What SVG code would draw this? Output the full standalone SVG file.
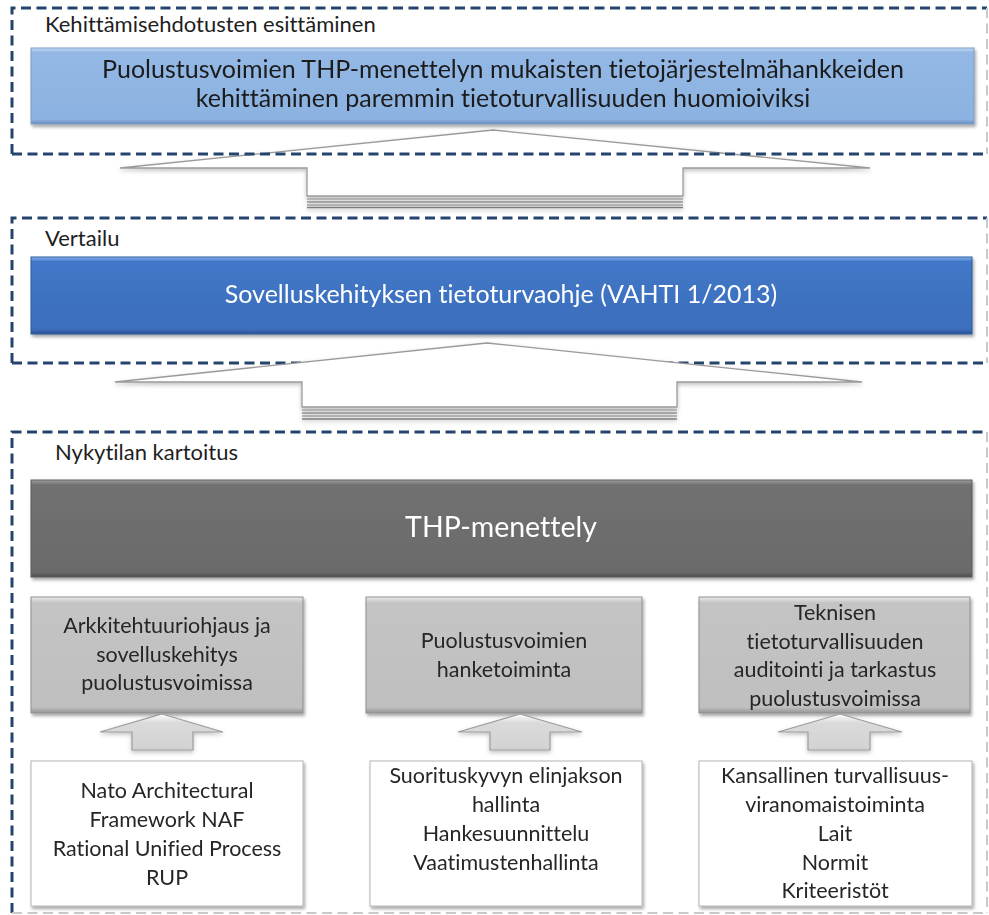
<svg xmlns="http://www.w3.org/2000/svg" width="989" height="915" viewBox="0 0 989 915">
  <style>
    text { font-variant-ligatures: none; }
    .lbl { font-family: Lato, "Liberation Sans", sans-serif; font-size: 22px; fill: #1e1e1e; }
    .big { font-family: Lato, "Liberation Sans", sans-serif; font-size: 25px; text-anchor: middle; }
    .box { font-family: Lato, "Liberation Sans", sans-serif; font-size: 21.5px; fill: #262626; text-anchor: middle; }
    .dash { fill: none; stroke: #24446e; stroke-width: 3; stroke-dasharray: 10 5.5; }
    .edge { fill: none; stroke: #c9c9c9; stroke-width: 2; stroke-dasharray: 10 5.5; }
    .bigarrow { fill: #ffffff; stroke: #9a9a9a; stroke-width: 1.3; stroke-linejoin: miter; }
    .smallarrow { fill: url(#gArrow); stroke: #9c9c9c; stroke-width: 1.2; }
    .band { stroke-width: 1.6; }
  </style>
  <defs>
    <filter id="shadow" x="-5%" y="-10%" width="112%" height="130%">
      <feDropShadow dx="1.5" dy="2.5" stdDeviation="1.8" flood-color="#000" flood-opacity="0.35"/>
    </filter>
    <filter id="softShadow" x="-5%" y="-10%" width="112%" height="130%">
      <feDropShadow dx="0" dy="2" stdDeviation="2" flood-color="#000" flood-opacity="0.25"/>
    </filter>
    <linearGradient id="gLightBlue" x1="0" y1="0" x2="0" y2="1">
      <stop offset="0" stop-color="#c3daf5"/>
      <stop offset="0.06" stop-color="#93b8e5"/>
      <stop offset="0.94" stop-color="#8cb2e1"/>
      <stop offset="1" stop-color="#6a8dba"/>
    </linearGradient>
    <linearGradient id="gBlue" x1="0" y1="0" x2="0" y2="1">
      <stop offset="0" stop-color="#8ab6f2"/>
      <stop offset="0.06" stop-color="#4177c6"/>
      <stop offset="0.94" stop-color="#3b6ebd"/>
      <stop offset="1" stop-color="#2a5290"/>
    </linearGradient>
    <linearGradient id="gDark" x1="0" y1="0" x2="0" y2="1">
      <stop offset="0" stop-color="#a0a0a0"/>
      <stop offset="0.05" stop-color="#707070"/>
      <stop offset="0.95" stop-color="#6b6b6b"/>
      <stop offset="1" stop-color="#4d4d4d"/>
    </linearGradient>
    <linearGradient id="gGrey" x1="0" y1="0" x2="0" y2="1">
      <stop offset="0" stop-color="#ebebeb"/>
      <stop offset="0.05" stop-color="#c4c4c4"/>
      <stop offset="0.95" stop-color="#bfbfbf"/>
      <stop offset="1" stop-color="#969696"/>
    </linearGradient>
    <linearGradient id="gArrow" x1="0" y1="0" x2="0" y2="1">
      <stop offset="0" stop-color="#ffffff"/>
      <stop offset="0.25" stop-color="#dadada"/>
      <stop offset="1" stop-color="#d2d2d2"/>
    </linearGradient>
  </defs>

  <rect x="0" y="0" width="989" height="915" fill="#ffffff"/>

  <g id="connectors">
    <!-- upper hollow arrow: Vertailu -> Kehittämisehdotukset -->
    <g id="arrow-up-1" filter="url(#softShadow)">
      <polygon class="bigarrow" points="493,130 870,168 683,168 683,196 307,196 307,168 120,168"/>
      <line class="band" x1="307" y1="199" x2="683" y2="199" stroke="#a5a5a5"/>
      <line class="band" x1="307" y1="202" x2="683" y2="202" stroke="#8f8f8f"/>
      <line class="band" x1="307" y1="205" x2="683" y2="205" stroke="#a0a0a0"/>
      <line class="band" x1="307" y1="207.5" x2="683" y2="207.5" stroke="#7d7d7d"/>
    </g>
  </g>

  <!-- Phase 1: proposals -->
  <g id="phase-proposals">
    <path class="dash" d="M12,154 V8 H987"/>
    <path class="dash" d="M12,154 H987"/>
    <path class="edge" d="M987,8 V154"/>
    <text class="lbl" x="45" y="32">Kehittämisehdotusten esittäminen</text>
    <g id="node-proposal" filter="url(#shadow)">
      <rect x="31" y="48" width="943" height="76" fill="url(#gLightBlue)" stroke="#7c9bc4" stroke-width="1"/>
      <text class="big" fill="#1a1a1a" x="503" y="78">Puolustusvoimien THP-menettelyn mukaisten tietojärjestelmähankkeiden</text>
      <text class="big" fill="#1a1a1a" x="503" y="107">kehittäminen paremmin tietoturvallisuuden huomioiviksi</text>
    </g>
  </g>

  <!-- Phase 2: comparison -->
  <g id="phase-comparison">
    <path class="dash" d="M12,363 V218 H987"/>
    <path class="dash" d="M12,363 H987"/>
    <path class="edge" d="M987,218 V363"/>
    <text class="lbl" x="45" y="246">Vertailu</text>
    <g id="node-vahti" filter="url(#shadow)">
      <rect x="31" y="257" width="941" height="77" fill="url(#gBlue)" stroke="#2f5a9a" stroke-width="1"/>
      <text class="big" fill="#ffffff" x="501" y="303">Sovelluskehityksen tietoturvaohje (VAHTI 1/2013)</text>
    </g>
  </g>

  <g id="connectors-2">
    <!-- lower hollow arrow: Nykytila -> Vertailu -->
    <g id="arrow-up-2" filter="url(#softShadow)">
      <polygon class="bigarrow" points="487,343 862,382 677,382 677,407 302,407 302,382 115,382"/>
      <line class="band" x1="302" y1="410" x2="677" y2="410" stroke="#a5a5a5"/>
      <line class="band" x1="302" y1="413" x2="677" y2="413" stroke="#8f8f8f"/>
      <line class="band" x1="302" y1="416" x2="677" y2="416" stroke="#a0a0a0"/>
      <line class="band" x1="302" y1="419" x2="677" y2="419" stroke="#7d7d7d"/>
    </g>
  </g>

  <!-- Phase 3: current state -->
  <g id="phase-current">
    <path class="dash" d="M12,913 V432 H987"/>
    <path class="edge" d="M12,913 H987 M987,432 V913"/>
    <text class="lbl" x="55" y="460">Nykytilan kartoitus</text>

    <g id="node-thp" filter="url(#shadow)">
      <rect x="31" y="480" width="941" height="97" fill="url(#gDark)" stroke="#5a5a5a" stroke-width="1"/>
      <text font-family="Lato, 'Liberation Sans', sans-serif" font-size="28.5" fill="#ffffff" text-anchor="middle" x="501" y="537">THP-menettely</text>
    </g>

    <g id="node-arkkitehtuuri" filter="url(#shadow)">
      <rect x="31" y="597" width="272" height="116" fill="url(#gGrey)" stroke="#8f8f8f" stroke-width="1"/>
      <text class="box" x="167" y="633">Arkkitehtuuriohjaus ja</text>
      <text class="box" x="167" y="661.5">sovelluskehitys</text>
      <text class="box" x="167" y="690">puolustusvoimissa</text>
    </g>
    <g id="node-hanketoiminta" filter="url(#shadow)">
      <rect x="366" y="597" width="276" height="116" fill="url(#gGrey)" stroke="#8f8f8f" stroke-width="1"/>
      <text class="box" x="504" y="648">Puolustusvoimien</text>
      <text class="box" x="504" y="677">hanketoiminta</text>
    </g>
    <g id="node-auditointi" filter="url(#shadow)">
      <rect x="699" y="597" width="271" height="116" fill="url(#gGrey)" stroke="#8f8f8f" stroke-width="1"/>
      <text class="box" x="835" y="620">Teknisen</text>
      <text class="box" x="835" y="648.5">tietoturvallisuuden</text>
      <text class="box" x="835" y="677">auditointi ja tarkastus</text>
      <text class="box" x="835" y="705.5">puolustusvoimissa</text>
    </g>

    <g id="node-naf" filter="url(#shadow)">
      <rect x="31" y="761" width="272" height="145" fill="#ffffff" stroke="#b3b3b3" stroke-width="1"/>
      <text class="box" x="167" y="798">Nato Architectural</text>
      <text class="box" x="167" y="827">Framework NAF</text>
      <text class="box" x="167" y="856">Rational Unified Process</text>
      <text class="box" x="167" y="885">RUP</text>
    </g>
    <g id="node-elinjakso" filter="url(#shadow)">
      <rect x="370" y="761" width="272" height="145" fill="#ffffff" stroke="#b3b3b3" stroke-width="1"/>
      <text class="box" x="506" y="783">Suorituskyvyn elinjakson</text>
      <text class="box" x="506" y="812">hallinta</text>
      <text class="box" x="506" y="841">Hankesuunnittelu</text>
      <text class="box" x="506" y="870">Vaatimustenhallinta</text>
    </g>
    <g id="node-viranomainen" filter="url(#shadow)">
      <rect x="699" y="761" width="273" height="145" fill="#ffffff" stroke="#b3b3b3" stroke-width="1"/>
      <text class="box" x="835" y="783">Kansallinen turvallisuus-</text>
      <text class="box" x="835" y="812">viranomaistoiminta</text>
      <text class="box" x="835" y="841">Lait</text>
      <text class="box" x="835" y="869.5">Normit</text>
      <text class="box" x="835" y="898">Kriteeristöt</text>
    </g>
  </g>

  <g id="connectors-3" filter="url(#softShadow)">
    <polygon class="smallarrow" points="162,714 223,732 193,732 193,750 132,750 132,732 100,732"/>
    <polygon class="smallarrow" points="520,714 582,732 550,732 550,750 490,750 490,732 458,732"/>
    <polygon class="smallarrow" points="840,714 902,732 870,732 870,750 808,750 808,732 778,732"/>
  </g>
</svg>
